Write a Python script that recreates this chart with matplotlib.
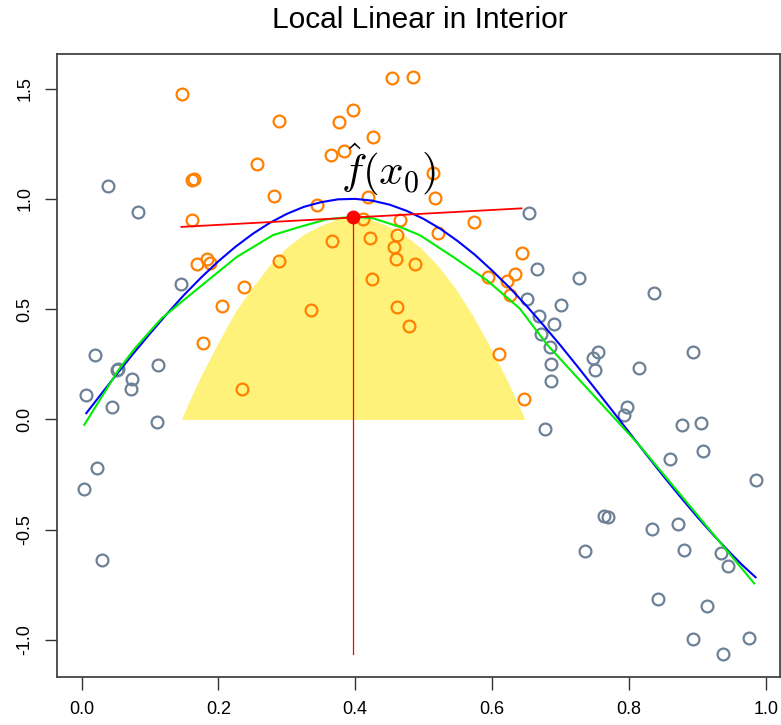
import numpy as np
import matplotlib
matplotlib.use('Agg')
import matplotlib.pyplot as plt

plt.rcParams['font.family'] = ['Liberation Sans', 'DejaVu Sans']
plt.rcParams['mathtext.fontset'] = 'cm'

# points outside the kernel window (gray)
x_out = [0.004, 0.007, 0.019, 0.022, 0.030, 0.039, 0.045, 0.052, 0.054, 0.073,
         0.074, 0.082, 0.111, 0.112, 0.146, 0.651, 0.654, 0.665, 0.668, 0.671,
         0.677, 0.685, 0.686, 0.686, 0.690, 0.700, 0.727, 0.736, 0.747, 0.751,
         0.754, 0.764, 0.769, 0.793, 0.797, 0.815, 0.834, 0.837, 0.843, 0.860,
         0.871, 0.878, 0.881, 0.893, 0.893, 0.905, 0.908, 0.914, 0.935, 0.937,
         0.945, 0.975, 0.985]
y_out = [-0.317, 0.112, 0.290, -0.219, -0.638, 1.059, 0.056, 0.224, 0.229, 0.137,
         0.184, 0.941, -0.011, 0.245, 0.612, 0.546, 0.934, 0.682, 0.468, 0.385,
         -0.045, 0.327, 0.251, 0.175, 0.434, 0.518, 0.642, -0.597, 0.279, 0.224,
         0.305, -0.439, -0.444, 0.020, 0.057, 0.234, -0.499, 0.571, -0.816, -0.180,
         -0.476, -0.026, -0.593, -0.998, 0.305, -0.015, -0.142, -0.847, -0.608, -1.066,
         -0.664, -0.993, -0.275]

# points inside the kernel window (orange)
x_in = [0.147, 0.288, 0.454, 0.484, 0.376, 0.397, 0.426, 0.365, 0.383, 0.256,
        0.165, 0.161, 0.281, 0.514, 0.419, 0.516, 0.344, 0.162, 0.412, 0.466,
        0.573, 0.521, 0.366, 0.421, 0.461, 0.456, 0.460, 0.643, 0.169, 0.184,
        0.188, 0.288, 0.487, 0.424, 0.594, 0.634, 0.622, 0.626, 0.237, 0.206,
        0.335, 0.461, 0.479, 0.177, 0.610, 0.646, 0.234]
y_in = [1.474, 1.353, 1.546, 1.551, 1.350, 1.403, 1.279, 1.199, 1.217, 1.156,
        1.090, 1.085, 1.014, 1.116, 1.010, 1.005, 0.972, 0.902, 0.907, 0.904,
        0.896, 0.846, 0.809, 0.821, 0.834, 0.783, 0.728, 0.756, 0.704, 0.726,
        0.710, 0.717, 0.704, 0.638, 0.647, 0.659, 0.626, 0.564, 0.599, 0.515,
        0.496, 0.511, 0.423, 0.347, 0.296, 0.091, 0.139]

# true function (blue)
x_true = [0.007, 0.025, 0.05, 0.075, 0.1, 0.125, 0.15, 0.175, 0.2, 0.225, 0.25,
          0.275, 0.3, 0.325, 0.35, 0.375, 0.4, 0.425, 0.45, 0.475, 0.5, 0.525,
          0.55, 0.575, 0.6, 0.625, 0.65, 0.675, 0.7, 0.725, 0.75, 0.775, 0.8,
          0.825, 0.85, 0.875, 0.9, 0.925, 0.95, 0.965, 0.985]
y_true = [0.028, 0.100, 0.199, 0.296, 0.389, 0.479, 0.565, 0.644, 0.717, 0.783, 0.841,
          0.891, 0.932, 0.964, 0.985, 0.998, 1.000, 0.992, 0.974, 0.946, 0.909, 0.863,
          0.808, 0.746, 0.675, 0.599, 0.516, 0.427, 0.335, 0.239, 0.141, 0.042, -0.058,
          -0.158, -0.256, -0.351, -0.443, -0.530, -0.612, -0.659, -0.716]

# local linear fit (green)
x_fit = [0.004, 0.054, 0.078, 0.117, 0.173, 0.227, 0.280, 0.319, 0.358, 0.397,
         0.426, 0.465, 0.494, 0.543, 0.592, 0.640, 0.681, 0.815, 0.983]
y_fit = [-0.025, 0.224, 0.322, 0.458, 0.601, 0.737, 0.836, 0.873, 0.907, 0.919,
         0.912, 0.873, 0.836, 0.737, 0.632, 0.504, 0.337, -0.117, -0.744]

# kernel weights (yellow)
x_kern = [0.146, 0.16, 0.175, 0.2, 0.225, 0.25, 0.275, 0.3, 0.325, 0.35, 0.375, 0.397,
          0.42, 0.445, 0.47, 0.495, 0.52, 0.545, 0.57, 0.595, 0.62, 0.635, 0.648]
y_kern = [0, 0.10, 0.20, 0.35, 0.49, 0.60, 0.70, 0.78, 0.84, 0.88, 0.91, 0.915,
          0.91, 0.88, 0.84, 0.78, 0.70, 0.60, 0.48, 0.34, 0.19, 0.09, 0]

x0 = 0.397
f_x0 = 0.918
line_x = [0.146, 0.643]
line_y = [0.873, 0.957]
y_min = -1.066

fig = plt.figure(figsize=(7.81, 7.25), dpi=100)
ax = fig.add_axes([0.073, 0.066, 0.926, 0.8595])

ax.fill_between(x_kern, 0, y_kern, color='#FFF27A', lw=0, zorder=1)
ax.plot(x_out, y_out, 'o', mfc='none', mec='#6C8196', ms=8.5, mew=1.6, zorder=2)
ax.plot(x_in, y_in, 'o', mfc='none', mec='#FF8000', ms=8.5, mew=1.6, zorder=2)
ax.plot(x_true, y_true, color='#0000FF', lw=1.5, zorder=3)
ax.plot(x_fit, y_fit, color='#00EE00', lw=1.5, zorder=3)
ax.plot(line_x, line_y, color='#FF0000', lw=1.3, zorder=4)
ax.plot([x0, x0], [y_min, f_x0], color='#FF0000', lw=0.9, zorder=4)
ax.plot([x0], [f_x0], 'o', color='#FF0000', ms=9, zorder=5)
ax.text(0.449, 1.005, r'$\hat{f}(x_0)$', fontsize=31, ha='center', va='bottom', zorder=6)

ax.set_xlim(-0.0358, 1.021)
ax.set_ylim(-1.169, 1.657)
ax.set_xticks([0.0, 0.2, 0.4, 0.6, 0.8, 1.0])
ax.set_yticks([-1.0, -0.5, 0.0, 0.5, 1.0, 1.5])
ax.set_xticklabels(['0.0', '0.2', '0.4', '0.6', '0.8', '1.0'])
ax.set_yticklabels(['-1.0', '-0.5', '0.0', '0.5', '1.0', '1.5'], rotation=90, va='center')
ax.tick_params(length=9, width=1, labelsize=13, pad=8, color='#333333')
for s in ax.spines.values():
    s.set_color('#444444')
    s.set_linewidth(1.3)

fig.suptitle('Local Linear in Interior', fontsize=21.5, x=0.538, y=0.992, va='top')

fig.savefig('out.png', dpi=100)
